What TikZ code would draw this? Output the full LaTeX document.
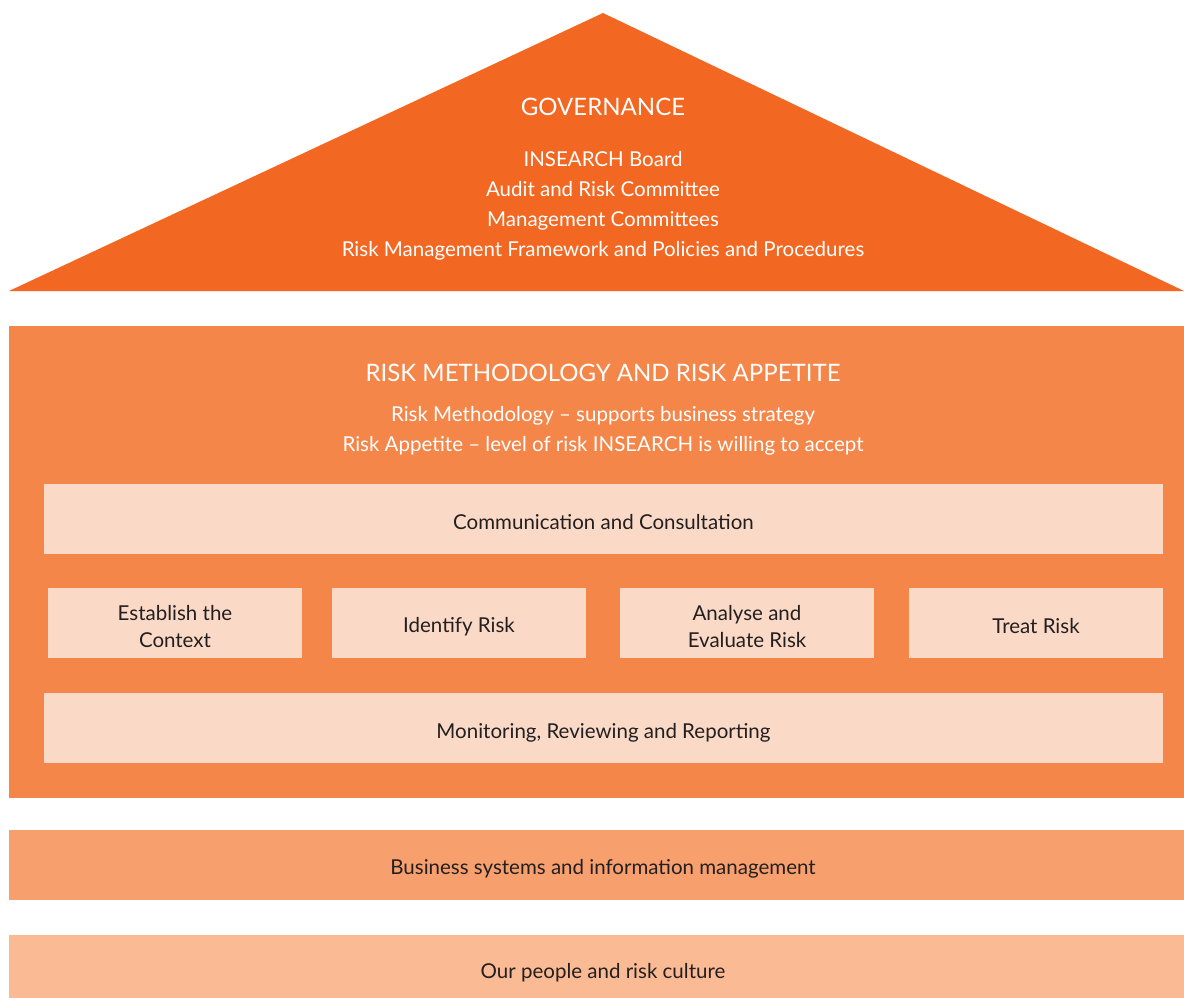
\documentclass[tikz,border=0pt]{standalone}
\usepackage{fontspec}
\setmainfont{Lato}
\definecolor{gov}{HTML}{F26722}
\definecolor{meth}{HTML}{F5864A}
\definecolor{inner}{HTML}{FADAC6}
\definecolor{biz}{HTML}{F7A06E}
\definecolor{people}{HTML}{FABB94}
\definecolor{txt}{HTML}{231F20}
\newcommand{\lowr}[2]{\raisebox{-#1}[\height][\depth]{#2}}
\tikzset{
  innerbox/.style={fill=inner, draw=none, text=txt, align=center, inner sep=0pt, font=\fontsize{20.5}{27}\selectfont},
  whitetxt/.style={text=white, align=center, inner sep=0pt, font=\fontsize{20.5}{30}\selectfont},
  headtxt/.style={text=white, inner sep=0pt, font=\fontsize{24}{28}\selectfont},
  band/.style={draw=none, text=txt, inner sep=0pt, font=\fontsize{20.5}{27}\selectfont}
}
\begin{document}
\begin{tikzpicture}[x=1pt,y=-1pt]
\useasboundingbox (0,0) rectangle (1184,998);
\fill[white] (0,0) rectangle (1184,998);
% Governance triangle
\fill[gov] (603,13) -- (1184,291) -- (9,291) -- cycle;
\node[headtxt] (govt) at (603,107) {GOVERNANCE};
\node[whitetxt] (govl) at (603,206) {INSEARCH Board\\Audit and Risk Committee\\Management Committees\\Risk Management Framework and Policies and Procedures};
% Methodology block
\fill[meth] (9,326) rectangle (1184,798);
\node[headtxt] (metht) at (603,373) {RISK METHODOLOGY AND RISK APPETITE};
\node[whitetxt] (methl) at (603,431) {Risk Methodology – supports business strategy\\Risk Appetite – level of risk INSEARCH is willing to accept};
% inner boxes
\node[innerbox, minimum width=1119pt, minimum height=70pt] (comm) at (603.5,519) {\lowr{3pt}{Communication and Consultation}};
\node[innerbox, minimum width=254pt, minimum height=70pt] (est) at (175,623) {\lowr{6pt}{\begin{tabular}{@{}c@{}}Establish the\\Context\end{tabular}}};
\node[innerbox, minimum width=254pt, minimum height=70pt] (ident) at (459,623) {\lowr{4pt}{Identify Risk}};
\node[innerbox, minimum width=254pt, minimum height=70pt] (anal) at (747,623) {\lowr{6pt}{\begin{tabular}{@{}c@{}}Analyse and\\Evaluate Risk\end{tabular}}};
\node[innerbox, minimum width=254pt, minimum height=70pt] (treat) at (1036,623) {\lowr{3pt}{Treat Risk}};
\node[innerbox, minimum width=1119pt, minimum height=70pt] (mon) at (603.5,728) {\lowr{5pt}{Monitoring, Reviewing and Reporting}};
% bands
\node[band, fill=biz, minimum width=1175pt, minimum height=70pt] (biz) at (596.5,865) {};
\node[band] (bizt) at (603,869) {Business systems and information management};
\node[band, fill=people, minimum width=1175pt, minimum height=63pt] (ppl) at (596.5,966.5) {};
\node[band] (pplt) at (603,973) {Our people and risk culture};
\end{tikzpicture}
\end{document}
